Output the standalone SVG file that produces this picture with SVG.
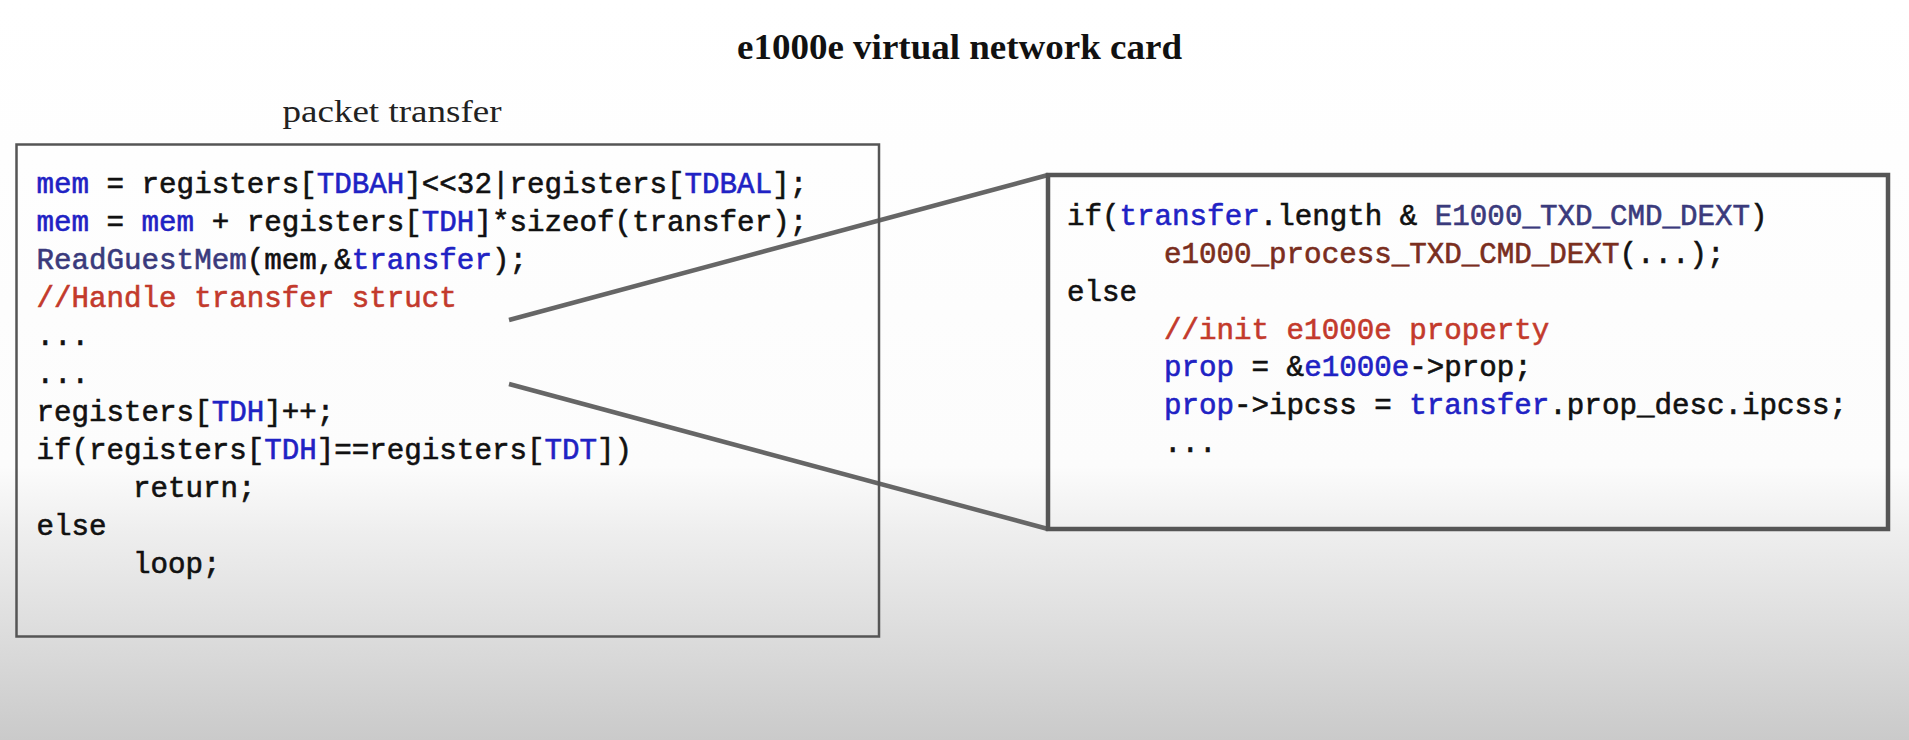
<svg xmlns="http://www.w3.org/2000/svg" width="1909" height="740" viewBox="0 0 1909 740">
  <defs>
    <linearGradient id="bg" x1="0" y1="0" x2="0" y2="740" gradientUnits="userSpaceOnUse">
      <stop offset="0" stop-color="#ffffff"/>
      <stop offset="0.63" stop-color="#fcfcfc"/>
      <stop offset="0.72" stop-color="#eeeeee"/>
      <stop offset="1" stop-color="#cacaca"/>
    </linearGradient>
    <style>
      .code { font-family: "Liberation Mono", "DejaVu Sans Mono", monospace; font-size: 29.2px; fill: #111111; stroke: #111111; stroke-width: 0.6px; white-space: pre; }
      .kw { fill: #1f22c4; stroke: #1f22c4; }
      .fn { fill: #3a3a7c; stroke: #3a3a7c; }
      .cm { fill: #c33a2c; stroke: #c33a2c; }
      .br { fill: #7a2e1e; stroke: #7a2e1e; }
      .title { font-family: "Liberation Serif", "Times New Roman", serif; font-weight: bold; font-size: 35px; fill: #111111; }
      .label { font-family: "Liberation Serif", "Times New Roman", serif; font-size: 31px; fill: #222222; }
      .box { fill: none; stroke: #555555; }
      .conn { stroke: #666666; stroke-width: 4.5; fill: none; }
    </style>
  </defs>
  <rect x="0" y="0" width="1909" height="740" fill="url(#bg)"/>

  <g id="title">
    <text class="title" x="737" y="59" textLength="445" lengthAdjust="spacingAndGlyphs">e1000e virtual network card</text>
  </g>

  <g id="connectors">
    <line class="conn" x1="509" y1="320" x2="1048" y2="175"/>
    <line class="conn" x1="509" y1="384" x2="1048" y2="529"/>
  </g>

  <g id="packet-transfer">
    <text class="label" x="282.5" y="122" textLength="219" lengthAdjust="spacingAndGlyphs">packet transfer</text>
    <rect class="box" x="16.5" y="144.5" width="862.5" height="492" stroke-width="2.5"/>
    <text class="code" x="36.5" y="193"><tspan class="kw">mem</tspan> = registers[<tspan class="kw">TDBAH</tspan>]&lt;&lt;32|registers[<tspan class="kw">TDBAL</tspan>];</text>
    <text class="code" x="36.5" y="231"><tspan class="kw">mem</tspan> = <tspan class="kw">mem</tspan> + registers[<tspan class="kw">TDH</tspan>]*sizeof(transfer);</text>
    <text class="code" x="36.5" y="269"><tspan class="fn">ReadGuestMem</tspan>(mem,&amp;<tspan class="kw">transfer</tspan>);</text>
    <text class="code cm" x="36.5" y="307">//Handle transfer struct</text>
    <text class="code" x="36.5" y="345">...</text>
    <text class="code" x="36.5" y="383">...</text>
    <text class="code" x="36.5" y="421">registers[<tspan class="kw">TDH</tspan>]++;</text>
    <text class="code" x="36.5" y="459">if(registers[<tspan class="kw">TDH</tspan>]==registers[<tspan class="kw">TDT</tspan>])</text>
    <text class="code" x="133" y="497">return;</text>
    <text class="code" x="36.5" y="535">else</text>
    <text class="code" x="133" y="573">loop;</text>
  </g>

  <g id="detail">
    <rect class="box" x="1048" y="175" width="840" height="354" stroke-width="4.5" stroke="#595959"/>
    <text class="code" x="1067" y="225">if(<tspan class="kw">transfer</tspan>.length &amp; <tspan class="fn">E1000_TXD_CMD_DEXT</tspan>)</text>
    <text class="code" x="1164" y="263"><tspan class="br">e1000_process_TXD_CMD_DEXT</tspan>(...);</text>
    <text class="code" x="1067" y="301">else</text>
    <text class="code cm" x="1164" y="339">//init e1000e property</text>
    <text class="code" x="1164" y="376"><tspan class="kw">prop</tspan> = &amp;<tspan class="kw">e1000e</tspan>-&gt;prop;</text>
    <text class="code" x="1164" y="414"><tspan class="kw">prop</tspan>-&gt;ipcss = <tspan class="kw">transfer</tspan>.prop_desc.ipcss;</text>
    <text class="code" x="1164" y="452">...</text>
  </g>
</svg>
